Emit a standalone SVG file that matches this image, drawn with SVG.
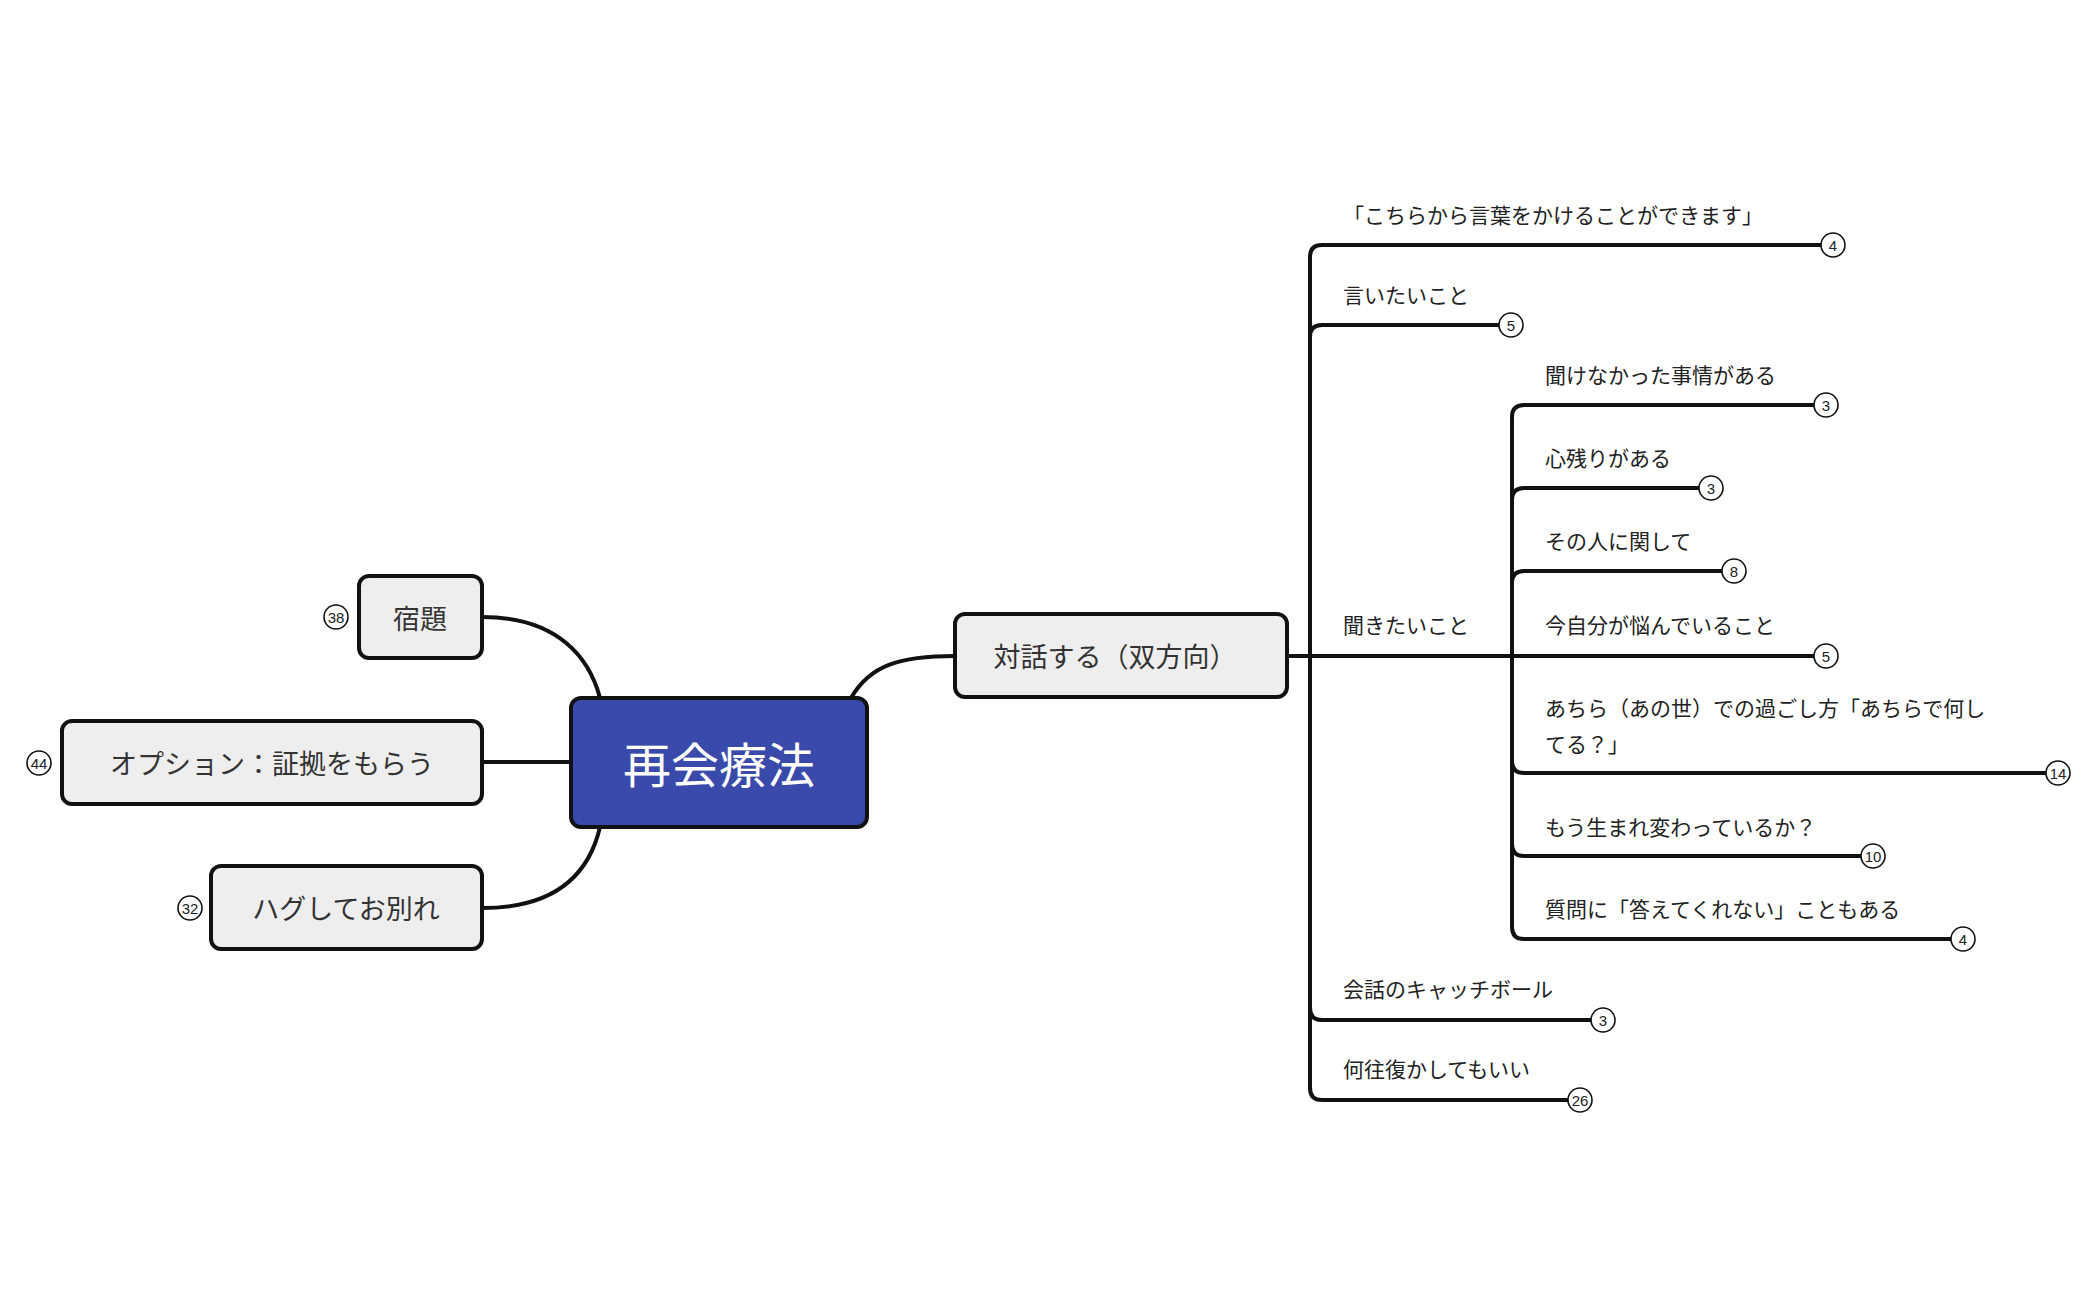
<svg xmlns="http://www.w3.org/2000/svg" width="2098" height="1300" viewBox="0 0 2098 1300">
<style>
.box{fill:#eeeeee;stroke:#111;stroke-width:4}
.root{fill:#3a4aab;stroke:#111;stroke-width:4}
.t{font-family:"Noto Sans CJK JP","Liberation Sans",sans-serif;fill:#333;dominant-baseline:central}
.nt{font-size:27px;text-anchor:middle}
.lt{font-size:21px;fill:#222}
.c{fill:none;stroke:#111;stroke-width:4}
.b circle{fill:#fff;stroke:#111;stroke-width:1.6}
.b text{font-family:"Liberation Sans",sans-serif;font-size:15px;text-anchor:middle;dominant-baseline:central;fill:#222}
</style>
<rect width="2098" height="1300" fill="#fff"/>
<g id="connectors">
<path class="c" d="M482,617 C560,617 590,660 600,698"/>
<path class="c" d="M482,908 C560,908 590,870 600,827"/>
<path class="c" d="M482,762 H571"/>
<path class="c" d="M851,698 C870,665 900,656 955,656"/>
<path class="c" d="M1287,656 H1512"/>
<path class="c" d="M1310,257 V1088"/>
<path class="c" d="M1310,257 Q1310,245 1322,245 H1821"/>
<path class="c" d="M1310,337 Q1310,325 1322,325 H1499"/>
<path class="c" d="M1310,1008 Q1310,1020 1322,1020 H1591"/>
<path class="c" d="M1310,1088 Q1310,1100 1322,1100 H1568"/>
<path class="c" d="M1512,417 V927"/>
<path class="c" d="M1512,417 Q1512,405 1524,405 H1814"/>
<path class="c" d="M1512,500 Q1512,488 1524,488 H1699"/>
<path class="c" d="M1512,583 Q1512,571 1524,571 H1722"/>
<path class="c" d="M1512,656 H1814"/>
<path class="c" d="M1512,761 Q1512,773 1524,773 H2046"/>
<path class="c" d="M1512,844 Q1512,856 1524,856 H1861"/>
<path class="c" d="M1512,927 Q1512,939 1524,939 H1951"/>
</g>
<g id="root"><rect class="root" x="571" y="698" width="296" height="129" rx="10"/><text class="t" x="719" y="762" font-size="48" text-anchor="middle" fill="#fff" style="fill:#fff">再会療法</text></g>
<g id="n-shukudai"><rect class="box" x="359" y="576" width="123" height="82" rx="10"/><text class="t nt" x="420" y="617">宿題</text>
<g class="b"><circle cx="336" cy="617" r="12"/><text x="336" y="617">38</text></g></g>
<g id="n-option"><rect class="box" x="62" y="721" width="420" height="83" rx="10"/><text class="t nt" x="272" y="762">オプション：証拠をもらう</text>
<g class="b"><circle cx="39" cy="763" r="12"/><text x="39" y="763">44</text></g></g>
<g id="n-hug"><rect class="box" x="211" y="866" width="271" height="83" rx="10"/><text class="t nt" x="346" y="907">ハグしてお別れ</text>
<g class="b"><circle cx="190" cy="908" r="12"/><text x="190" y="908">32</text></g></g>
<g id="n-taiwa"><rect class="box" x="955" y="614" width="332" height="83" rx="10"/><text class="t nt" x="1115" y="655">対話する（双方向）</text></g>
<g id="l1"><text class="t lt" x="1343" y="214">「こちらから言葉をかけることができます」</text><g class="b"><circle cx="1833" cy="245" r="12"/><text x="1833" y="245">4</text></g></g>
<g id="l2"><text class="t lt" x="1343" y="294">言いたいこと</text><g class="b"><circle cx="1511" cy="325" r="12"/><text x="1511" y="325">5</text></g></g>
<g id="l3"><text class="t lt" x="1343" y="624">聞きたいこと</text></g>
<g id="l4"><text class="t lt" x="1343" y="988">会話のキャッチボール</text><g class="b"><circle cx="1603" cy="1020" r="12"/><text x="1603" y="1020">3</text></g></g>
<g id="l5"><text class="t lt" x="1343" y="1068">何往復かしてもいい</text><g class="b"><circle cx="1580" cy="1100" r="12"/><text x="1580" y="1100">26</text></g></g>
<g id="m1"><text class="t lt" x="1545" y="374">聞けなかった事情がある</text><g class="b"><circle cx="1826" cy="405" r="12"/><text x="1826" y="405">3</text></g></g>
<g id="m2"><text class="t lt" x="1545" y="457">心残りがある</text><g class="b"><circle cx="1711" cy="488" r="12"/><text x="1711" y="488">3</text></g></g>
<g id="m3"><text class="t lt" x="1545" y="540">その人に関して</text><g class="b"><circle cx="1734" cy="571" r="12"/><text x="1734" y="571">8</text></g></g>
<g id="m4"><text class="t lt" x="1545" y="624">今自分が悩んでいること</text><g class="b"><circle cx="1826" cy="656" r="12"/><text x="1826" y="656">5</text></g></g>
<g id="m5"><text class="t lt" x="1545" y="707">あちら（あの世）での過ごし方「あちらで何し</text><text class="t lt" x="1545" y="743">てる？」</text><g class="b"><circle cx="2058" cy="773" r="12"/><text x="2058" y="773">14</text></g></g>
<g id="m6"><text class="t lt" x="1545" y="826">もう生まれ変わっているか？</text><g class="b"><circle cx="1873" cy="856" r="12"/><text x="1873" y="856">10</text></g></g>
<g id="m7"><text class="t lt" x="1545" y="908">質問に「答えてくれない」こともある</text><g class="b"><circle cx="1963" cy="939" r="12"/><text x="1963" y="939">4</text></g></g>
</svg>
